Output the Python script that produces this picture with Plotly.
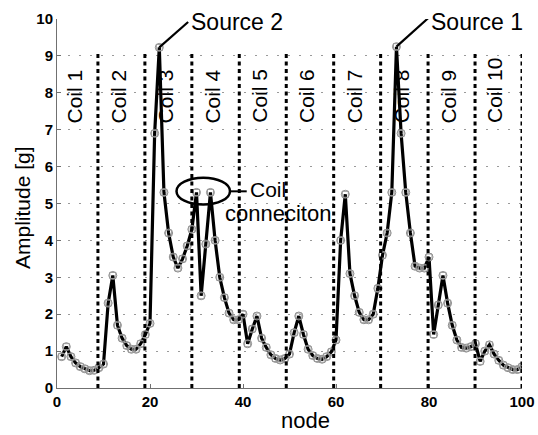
import plotly.graph_objects as go

# ---- data ----
nodes = list(range(1, 101))
amplitude = [
    0.85, 1.12, 0.85, 0.68, 0.58, 0.52, 0.47, 0.48, 0.55, 0.65,
    2.30, 3.05, 1.70, 1.35, 1.15, 1.05, 1.05, 1.20, 1.45, 1.75,
    6.90, 9.23, 5.30, 4.20, 3.55, 3.25, 3.50, 3.85, 4.30, 5.30,
    2.50, 3.90, 5.30, 4.00, 3.00, 2.45, 2.03, 1.85, 1.85, 2.00,
    1.20, 1.60, 1.95, 1.35, 1.10, 0.90, 0.80, 0.76, 0.80, 0.92,
    1.50, 1.95, 1.45, 1.05, 0.88, 0.80, 0.78, 0.85, 0.98, 1.30,
    4.00, 5.25, 3.10, 2.50, 2.05, 1.85, 1.85, 2.00, 2.70, 3.60,
    4.20, 5.30, 9.25, 6.90, 5.30, 4.20, 3.30, 3.25, 3.25, 3.55,
    1.45, 2.25, 3.05, 2.30, 1.70, 1.30, 1.10, 1.08, 1.12, 1.20,
    0.72, 1.00, 1.17, 0.92, 0.75, 0.62, 0.55, 0.50, 0.50, 0.58,
]
coil_bounds = [8.8, 18.9, 29.0, 39.2, 49.3, 59.5, 69.6, 79.8, 89.9, 100.0]
coil_labels = ["Coil 1", "Coil 2", "Coil 3", "Coil 4", "Coil 5",
               "Coil 6", "Coil 7", "Coil 8", "Coil 9", "Coil 10"]
x_ticks = [0, 20, 40, 60, 80, 100]
y_ticks = list(range(0, 11))

FONT = "Arial, Liberation Sans, sans-serif"
PLOT_W, PLOT_H = 465, 369  # plot area size in px

fig = go.Figure()
fig.add_trace(go.Scatter(x=nodes, y=amplitude, mode="lines",
                         line=dict(color="black", width=3.2), hoverinfo="skip"))
fig.add_trace(go.Scatter(x=nodes, y=amplitude, mode="markers",
                         marker=dict(symbol="circle-open", size=8,
                                     color="#8a8a8a", line=dict(width=1))))
fig.add_trace(go.Scatter(x=nodes, y=amplitude, mode="markers",
                         marker=dict(symbol="square-open", size=6,
                                     color="#9a9a9a", line=dict(width=1))))

shapes = []
for b in coil_bounds:
    shapes.append(dict(type="line", xref="x", yref="y", x0=b, x1=b, y0=0, y1=9.05,
                       line=dict(color="black", width=3, dash="4px,3.5px"),
                       layer="above"))

annotations = []
prev = 0.0
for b, lab in zip(coil_bounds, coil_labels):
    cx = (prev + b) / 2 - 0.7
    annotations.append(dict(x=cx, y=7.12, xref="x", yref="y", text=lab,
                            textangle=-90, showarrow=False,
                            xanchor="center", yanchor="bottom",
                            font=dict(family=FONT, size=21, color="black")))
    prev = b

# Source callouts
src_pts = [(22, 9.23, 28.2, 9.92, "Source 2"), (73, 9.25, 79.8, 10.02, "Source 1")]
for px, py, tx, ty, txt in src_pts:
    shapes.append(dict(type="line", xref="x", yref="y", x0=px, y0=py, x1=tx, y1=ty,
                       line=dict(color="black", width=2.2)))
    annotations.append(dict(x=tx + 0.2, y=9.93, xref="x", yref="y", text=txt,
                            showarrow=False, xanchor="left", yanchor="middle",
                            font=dict(family=FONT, size=23, color="black")))

# Coil connection ellipse
shapes.append(dict(type="circle", xref="x", yref="y", x0=25.7, x1=37.2, y0=4.97, y1=5.7,
                   line=dict(color="black", width=2.5)))
shapes.append(dict(type="line", xref="x", yref="y", x0=37.2, x1=40.8, y0=5.33, y1=5.33,
                   line=dict(color="black", width=2)))
annotations.append(dict(x=41.0, y=5.37, xref="x", yref="y", text="Coil",
                        showarrow=False, xanchor="left", yanchor="middle",
                        font=dict(family=FONT, size=21, color="black")))
annotations.append(dict(x=35.6, y=4.72, xref="x", yref="y", text="conneciton",
                        showarrow=False, xanchor="left", yanchor="middle",
                        font=dict(family=FONT, size=22, color="black")))

# axis titles
annotations.append(dict(x=(305 - 57) / PLOT_W, y=-(420 - 388) / PLOT_H,
                        xref="paper", yref="paper", text="node", showarrow=False,
                        xanchor="center", yanchor="middle",
                        font=dict(family=FONT, size=22, color="black")))
annotations.append(dict(x=-(57 - 22.5) / PLOT_W, y=(388 - 207.5) / PLOT_H,
                        xref="paper", yref="paper", text="Amplitude [g]",
                        textangle=-90, showarrow=False,
                        xanchor="center", yanchor="middle",
                        font=dict(family=FONT, size=21, color="black")))

fig.update_layout(
    annotations=annotations, shapes=shapes,
    width=538, height=435,
    margin=dict(l=57, r=16, t=19, b=47, autoexpand=False),
    paper_bgcolor="white", plot_bgcolor="white",
    showlegend=False,
    font=dict(family=FONT, color="black"),
)
fig.update_xaxes(range=[0, 100], tickvals=x_ticks, ticktext=[str(v) for v in x_ticks],
                 showgrid=False, zeroline=False, showline=True, linecolor="#707070",
                 linewidth=1, ticks="inside", ticklen=4, tickcolor="#707070",
                 automargin=False,
                 tickfont=dict(family=FONT, size=15, color="black", weight="bold"))
fig.update_yaxes(range=[0, 10], tickvals=y_ticks, ticktext=[str(v) for v in y_ticks],
                 showgrid=True, gridcolor="#9a9a9a", griddash="2px,9px", gridwidth=1,
                 zeroline=False, showline=True, linecolor="#707070",
                 linewidth=1, ticks="inside", ticklen=4, tickcolor="#707070",
                 automargin=False,
                 tickfont=dict(family=FONT, size=15, color="black", weight="bold"))

fig.write_html("out.html", config={"displayModeBar": False},
               post_script="document.body.style.margin='0';document.body.style.overflow='hidden';")
